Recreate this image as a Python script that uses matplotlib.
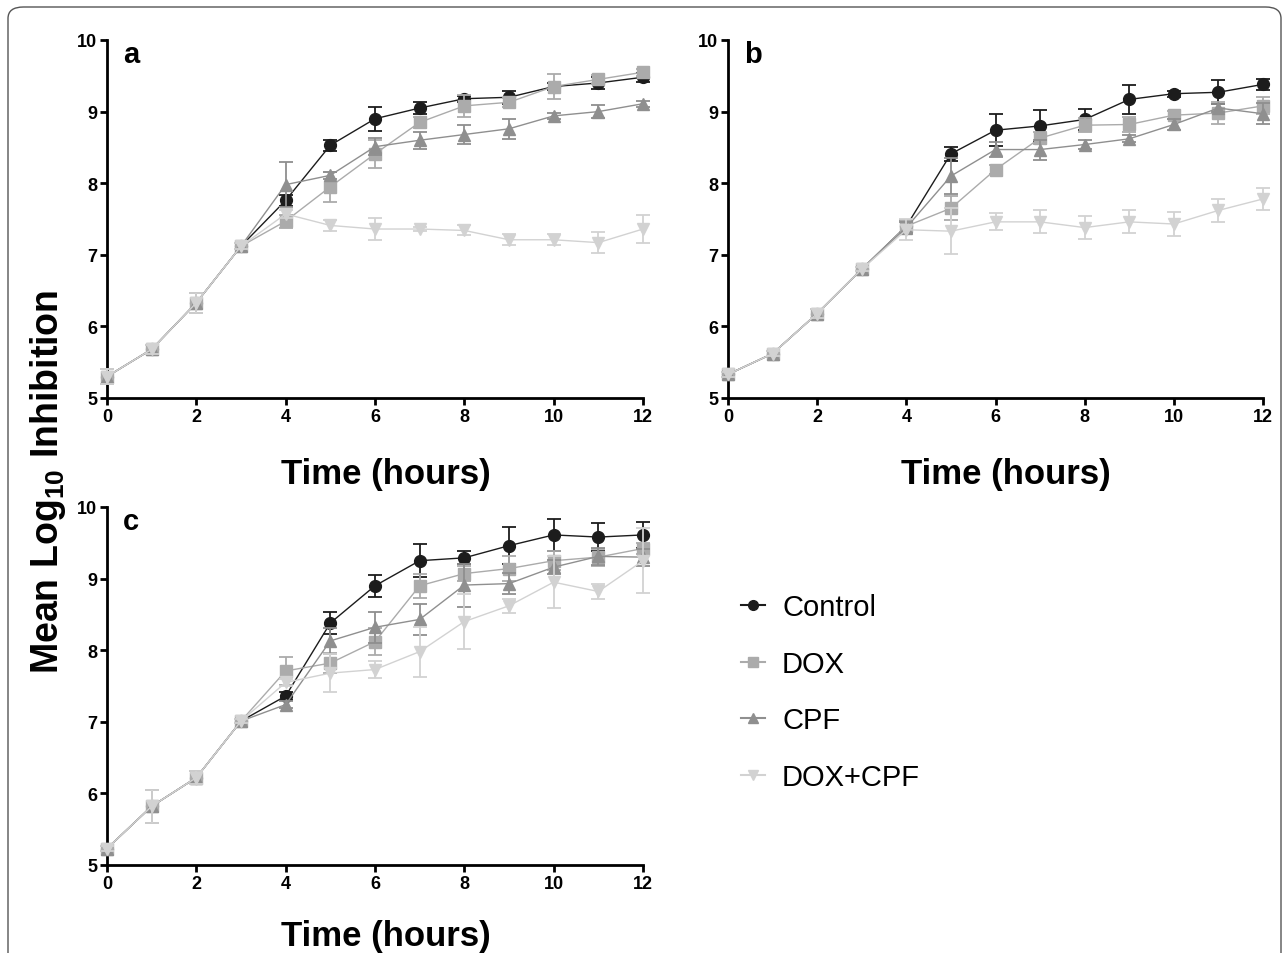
import matplotlib
matplotlib.use("Agg")
import matplotlib.pyplot as plt
from matplotlib.patches import FancyBboxPatch
import numpy as np

plt.rcParams['font.family'] = ['Liberation Sans', 'DejaVu Sans']
plt.rcParams['mathtext.fontset'] = 'custom'
plt.rcParams['mathtext.bf'] = 'Liberation Sans:bold'
plt.rcParams['mathtext.rm'] = 'Liberation Sans:bold'

hours = list(range(13))
series = ["Control", "DOX", "CPF", "DOX+CPF"]

# panel a
a_control = [5.30, 5.68, 6.33, 7.12, 7.76, 8.53, 8.90, 9.05, 9.18, 9.20, 9.35, 9.40, 9.48]
a_dox     = [5.30, 5.68, 6.33, 7.12, 7.47, 7.95, 8.41, 8.85, 9.08, 9.13, 9.35, 9.45, 9.55]
a_cpf     = [5.30, 5.68, 6.33, 7.12, 7.98, 8.11, 8.51, 8.60, 8.68, 8.76, 8.94, 9.00, 9.11]
a_combo   = [5.30, 5.68, 6.33, 7.12, 7.57, 7.41, 7.36, 7.36, 7.34, 7.21, 7.21, 7.17, 7.36]
a_control_err = [0.10, 0.06, 0.14, 0.04, 0.08, 0.08, 0.17, 0.08, 0.04, 0.09, 0.05, 0.08, 0.06]
a_dox_err     = [0.10, 0.06, 0.14, 0.04, 0.09, 0.21, 0.20, 0.08, 0.15, 0.06, 0.17, 0.06, 0.05]
a_cpf_err     = [0.10, 0.06, 0.14, 0.04, 0.31, 0.05, 0.12, 0.12, 0.13, 0.14, 0.04, 0.09, 0.04]
a_combo_err   = [0.10, 0.06, 0.14, 0.04, 0.06, 0.08, 0.15, 0.03, 0.07, 0.08, 0.08, 0.15, 0.20]

# panel b
b_control = [5.33, 5.62, 6.18, 6.80, 7.40, 8.41, 8.74, 8.80, 8.89, 9.17, 9.25, 9.27, 9.38]
b_dox     = [5.33, 5.62, 6.18, 6.80, 7.40, 7.65, 8.19, 8.63, 8.81, 8.82, 8.95, 8.98, 9.08]
b_cpf     = [5.33, 5.62, 6.18, 6.80, 7.38, 8.10, 8.47, 8.47, 8.54, 8.62, 8.82, 9.05, 8.97]
b_combo   = [5.33, 5.62, 6.18, 6.80, 7.35, 7.33, 7.46, 7.46, 7.38, 7.46, 7.43, 7.62, 7.78]
b_control_err = [0.03, 0.03, 0.06, 0.03, 0.08, 0.10, 0.22, 0.22, 0.14, 0.20, 0.04, 0.17, 0.08]
b_dox_err     = [0.03, 0.03, 0.06, 0.03, 0.08, 0.17, 0.06, 0.08, 0.10, 0.10, 0.06, 0.16, 0.12]
b_cpf_err     = [0.03, 0.03, 0.06, 0.03, 0.08, 0.25, 0.10, 0.14, 0.06, 0.05, 0.07, 0.05, 0.15]
b_combo_err   = [0.03, 0.03, 0.06, 0.03, 0.15, 0.32, 0.12, 0.16, 0.16, 0.16, 0.17, 0.16, 0.15]

# panel c
c_control = [5.23, 5.82, 6.22, 7.01, 7.36, 8.38, 8.90, 9.25, 9.29, 9.46, 9.61, 9.58, 9.61]
c_dox     = [5.23, 5.82, 6.22, 7.01, 7.71, 7.82, 8.12, 8.90, 9.07, 9.14, 9.25, 9.30, 9.42]
c_cpf     = [5.23, 5.82, 6.22, 7.01, 7.24, 8.13, 8.32, 8.43, 8.91, 8.93, 9.16, 9.31, 9.30]
c_combo   = [5.23, 5.82, 6.22, 7.01, 7.55, 7.68, 7.73, 7.98, 8.40, 8.62, 8.95, 8.82, 9.25]
c_control_err = [0.03, 0.23, 0.09, 0.03, 0.05, 0.16, 0.15, 0.23, 0.09, 0.26, 0.22, 0.20, 0.18]
c_dox_err     = [0.03, 0.23, 0.09, 0.03, 0.20, 0.14, 0.19, 0.17, 0.10, 0.17, 0.13, 0.12, 0.08]
c_cpf_err     = [0.03, 0.23, 0.09, 0.03, 0.05, 0.18, 0.22, 0.22, 0.30, 0.15, 0.10, 0.12, 0.12]
c_combo_err   = [0.03, 0.23, 0.09, 0.03, 0.05, 0.27, 0.12, 0.35, 0.39, 0.10, 0.36, 0.10, 0.45]

panels = {
    "a": ([a_control, a_dox, a_cpf, a_combo], [a_control_err, a_dox_err, a_cpf_err, a_combo_err]),
    "b": ([b_control, b_dox, b_cpf, b_combo], [b_control_err, b_dox_err, b_cpf_err, b_combo_err]),
    "c": ([c_control, c_dox, c_cpf, c_combo], [c_control_err, c_dox_err, c_cpf_err, c_combo_err]),
}

colors = ['#1c1c1c', '#ababab', '#8f8f8f', '#d2d2d2']
markers = ['o', 's', '^', 'v']

W, H = 1287, 954
fig = plt.figure(figsize=(W / 100, H / 100), dpi=100)

# rounded border around the figure
border = FancyBboxPatch((8 / W, -0.1), 1273 / W, 1.1 - 8 / H,
                        boxstyle="round,pad=0,rounding_size=0.012",
                        transform=fig.transFigure, fill=False,
                        edgecolor='#555555', linewidth=1.0)
fig.patches.append(border)

boxes = {
    "a": [107 / W, 1 - 399 / H, 536 / W, 358 / H],
    "b": [728 / W, 1 - 399 / H, 535 / W, 358 / H],
    "c": [107 / W, 1 - 866 / H, 536 / W, 358 / H],
}

for key, (vals, errs) in panels.items():
    ax = fig.add_axes(boxes[key])
    # control first, the lighter treatments drawn over it
    for i in range(4):
        eb = ax.errorbar(hours, vals[i], yerr=errs[i], color=colors[i],
                         marker=markers[i], markersize=9 if i else 8.5,
                         linewidth=1.0, elinewidth=1.3, capsize=5, capthick=1.3,
                         label=series[i], clip_on=False, zorder=3 + i)
        for art in eb.lines[1] + eb.lines[2]:
            art.set_clip_on(False)
    ax.set_xlim(0, 12)
    ax.set_ylim(5, 10)
    ax.set_xticks(range(0, 13, 2))
    ax.set_yticks(range(5, 11))
    for s in ['top', 'right']:
        ax.spines[s].set_visible(False)
    for s in ['left', 'bottom']:
        ax.spines[s].set_linewidth(2.0)
    ax.tick_params(width=2.0, length=5, labelsize=13, pad=2)
    for lab in ax.get_xticklabels() + ax.get_yticklabels():
        lab.set_fontweight('bold')
    ax.text(0.03, 1.0, key, transform=ax.transAxes, fontsize=21,
            fontweight='bold', va='top', ha='left')
    ax.set_xlabel("Time (hours)", fontsize=25, fontweight='bold')
    ax.xaxis.set_label_coords(0.52, -0.165 if key != "c" else -0.15)

fig.text(0.037, 1 - 482 / H, r"Mean Log$_{\mathbf{10}}$ Inhibition", rotation=90,
         fontsize=27, fontweight='bold', ha='center', va='center')

leg_handles = []
for i in range(4):
    ln, = plt.plot([], [], color=colors[i], marker=markers[i], markersize=7,
                   linewidth=1.5)
    leg_handles.append(ln)
fig.legend(leg_handles, series, loc='upper left',
           bbox_to_anchor=(715 / W, 1 - 568 / H), frameon=False,
           fontsize=21, handlelength=0.8, handletextpad=0.6, labelspacing=0.98)

fig.savefig("out.png", dpi=100)
